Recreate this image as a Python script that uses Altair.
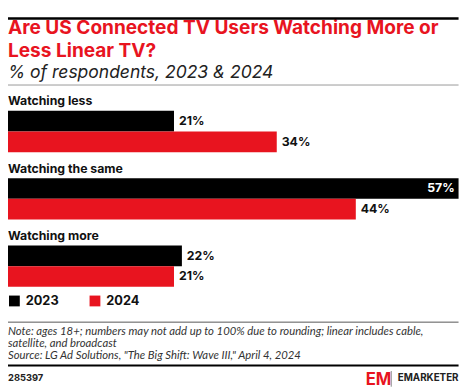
import altair as alt
import pandas as pd

categories = ["Watching less", "Watching the same", "Watching more"]
years = ["2023", "2024"]
values_2023 = [21, 57, 22]
values_2024 = [34, 44, 21]

title_text = "Are US Connected TV Users Watching More or\nLess Linear TV?"
subtitle_text = "% of respondents, 2023 & 2024"
note_text = ("Note: ages 18+; numbers may not add up to 100% due to rounding; linear includes cable,\n"
             "satellite, and broadcast\n"
             "Source: LG Ad Solutions, \"The Big Shift: Wave III,\" April 4, 2024")
chart_id = "285397"

RED = "#e8141f"
FONT = "Inter"

rows = []
for c, a, b in zip(categories, values_2023, values_2024):
    rows.append({"category": c, "year": years[0], "value": a, "label": f"{a}%"})
    rows.append({"category": c, "year": years[1], "value": b, "label": f"{b}%"})
df = pd.DataFrame(rows)
cat_df = pd.DataFrame({"category": categories})
one = pd.DataFrame({"k": [0]})

xscale = alt.Scale(domain=[0, 57], range=[0, 458.5])
yscale = alt.Scale(domain=categories, range=[101.3, 280.3], paddingInner=0.387, paddingOuter=0)
yoff = alt.YOffset("year:N", sort=years, scale=alt.Scale(paddingInner=0, paddingOuter=0))

bars = alt.Chart(df).mark_bar(size=21).encode(
    x=alt.X("value:Q", scale=xscale, axis=None),
    y=alt.Y("category:N", sort=categories, scale=yscale, axis=None),
    yOffset=yoff,
    color=alt.Color("year:N", sort=years,
                    scale=alt.Scale(domain=years, range=["#000000", RED]),
                    legend=alt.Legend(title=None, orient="none", legendX=0, legendY=288,
                                      direction="horizontal", symbolType="square",
                                      symbolSize=121, symbolStrokeWidth=0,
                                      labelFont=FONT, labelFontSize=13, labelFontWeight="bold",
                                      labelColor="#111", labelOffset=5, columnPadding=30,
                                      padding=0, offset=0)),
)

labels_out = alt.Chart(df).transform_filter("datum.value < 50").mark_text(
    align="left", baseline="middle", dx=5, font=FONT, fontSize=12.5, fontWeight="bold", color="#111"
).encode(
    x=alt.X("value:Q", scale=xscale),
    y=alt.Y("category:N", sort=categories, scale=yscale),
    yOffset=yoff,
    text="label:N",
)

labels_in = alt.Chart(df).transform_filter("datum.value >= 50").mark_text(
    align="right", baseline="middle", dx=-4, font=FONT, fontSize=12.5, fontWeight="bold", color="#ffffff"
).encode(
    x=alt.X("value:Q", scale=xscale),
    y=alt.Y("category:N", sort=categories, scale=yscale),
    yOffset=yoff,
    text="label:N",
)

cat_labels = alt.Chart(cat_df).mark_text(
    align="left", baseline="alphabetic", dy=-5.5, font=FONT, fontSize=12.5, fontWeight="bold", color="#111"
).encode(
    x=alt.value(0),
    y=alt.Y("category:N", sort=categories, scale=yscale, bandPosition=0),
    text="category:N",
)

def rule(y, color, sw, x0=0, x1=458.5):
    return alt.Chart(one).mark_rule(color=color, strokeWidth=sw).encode(
        x=alt.value(x0), x2=alt.value(x1), y=alt.value(y))

def txt(text, x, y, size, color, weight="normal", style="normal", align="left", lh=None, font=FONT):
    kw = dict(align=align, baseline="alphabetic", font=font, fontSize=size, color=color,
              fontWeight=weight, fontStyle=style, lineBreak="\n")
    if lh:
        kw["lineHeight"] = lh
    return alt.Chart(one).mark_text(**kw).encode(
        x=alt.value(x), y=alt.value(y), text=alt.value(text))

title = txt(title_text, 0, 23.5, 19.4, RED, weight="bold", lh=23)
top_rule = alt.Chart(one).mark_rect(color="#000000").encode(
    x=alt.value(0), x2=alt.value(458.5), y=alt.value(6), y2=alt.value(8.5))
subtitle = txt(subtitle_text, 0, 67.5, 17.8, "#222", style="italic")
sub_rule = rule(75, "#999999", 1)
note_rule = rule(316.3, "#555555", 1)
notes = txt(note_text, 0, 329, 11.5, "#333", style="italic", lh=12.5, font="Lato")
bottom_rule = rule(360.5, "#000000", 2)
cid = txt(chart_id, 0, 376, 9.5, "#222", weight="bold")
logo_em = txt("EM", 364, 380, 17, RED, weight="bold")
divider = alt.Chart(one).mark_rule(color="#888", strokeWidth=1).encode(
    x=alt.value(390), y=alt.value(366), y2=alt.value(382))
logo_txt = txt("EMARKETER", 458.5, 376.5, 10, "#222", weight="bold", align="right")

chart = alt.layer(
    title, top_rule, subtitle, sub_rule,
    bars, labels_out, labels_in, cat_labels,
    note_rule, notes, bottom_rule, cid, logo_em, divider, logo_txt,
).properties(
    width=462, height=384, autosize=alt.AutoSizeParams(type="none"), padding=0
).configure_view(stroke=None)

chart.save("out.html", embed_options={"renderer": "svg", "actions": False})
